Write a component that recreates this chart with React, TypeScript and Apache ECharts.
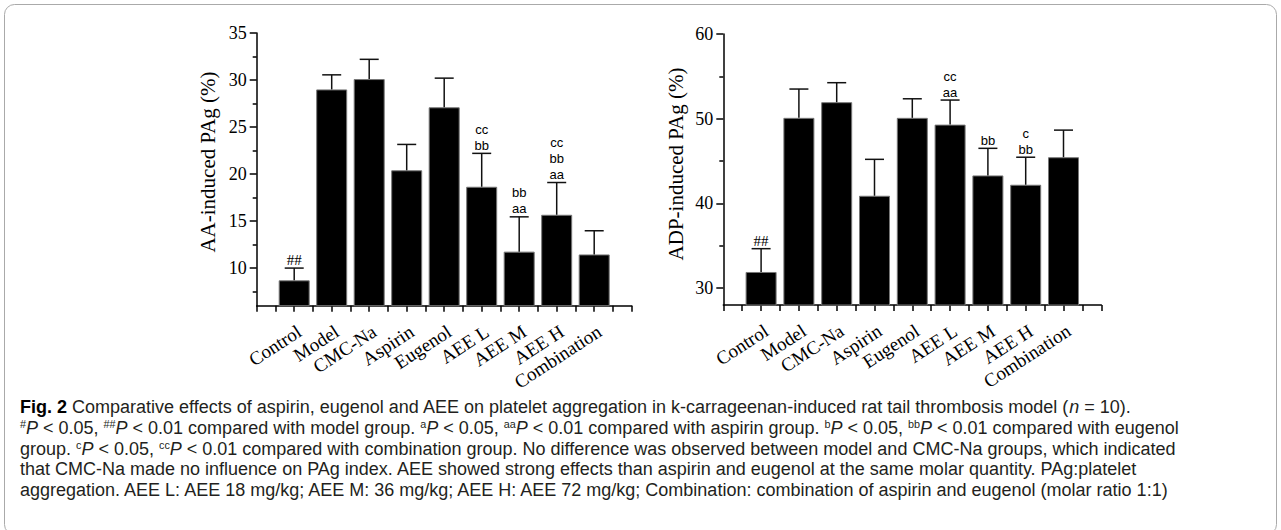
import React, { useEffect, useRef } from "react";
import * as echarts from "echarts";

const categories = ["Control", "Model", "CMC-Na", "Aspirin", "Eugenol", "AEE L", "AEE M", "AEE H", "Combination"];
const aaMean = [8.7, 29.0, 30.1, 20.4, 27.1, 18.65, 11.75, 15.67, 11.45];
const aaUpper = [10.0, 30.55, 32.2, 23.15, 30.2, 22.2, 15.45, 19.1, 13.97];
const aaMarks = ["##", "", "", "", "", "cc\nbb", "bb\naa", "cc\nbb\naa", ""];
const adpMean = [31.9, 50.1, 51.95, 40.9, 50.1, 49.3, 43.3, 42.2, 45.45];
const adpUpper = [34.65, 53.5, 54.25, 45.2, 52.35, 52.2, 46.5, 45.45, 48.65];
const adpMarks = ["##", "", "", "", "", "cc\naa", "bb", "c\nbb", ""];
const aaMajorTicks = [10, 15, 20, 25, 30, 35];
const aaMinorTicks = [7.5, 12.5, 17.5, 22.5, 27.5, 32.5];
const adpMajorTicks = [30, 40, 50, 60];
const adpMinorTicks = [35, 45, 55];
const categoryPositions = [1, 2, 3, 4, 5, 6, 7, 8, 9];
const captionLines = [
  "{b|Fig. 2} Comparative effects of aspirin, eugenol and AEE on platelet aggregation in k-carrageenan-induced rat tail thrombosis model ({i|n} = 10).",
  "{s|#}{i|P} < 0.05, {s|##}{i|P} < 0.01 compared with model group. {s|a}{i|P} < 0.05, {s|aa}{i|P} < 0.01 compared with aspirin group. {s|b}{i|P} < 0.05, {s|bb}{i|P} < 0.01 compared with eugenol",
  "group. {s|c}{i|P} < 0.05, {s|cc}{i|P} < 0.01 compared with combination group. No difference was observed between model and CMC-Na groups, which indicated",
  "that CMC-Na made no influence on PAg index. AEE showed strong effects than aspirin and eugenol at the same molar quantity. PAg:platelet",
  "aggregation. AEE L: AEE 18 mg/kg; AEE M: 36 mg/kg; AEE H: AEE 72 mg/kg; Combination: combination of aspirin and eugenol (molar ratio 1:1)",
];

const SERIF = "Liberation Serif";
const SANS = "Liberation Sans";
const CAP_FONT = "Liberation Sans";
const SUP_RATIO = 0.6;
const CAP_TARGET_WIDTH = 1226; // width of the second caption line

function richWidth(ctx: CanvasRenderingContext2D, line: string, size: number) {
  const re = /\{(\w)\|([^}]*)\}|([^{]+)/g;
  let m: RegExpExecArray | null;
  let w = 0;
  while ((m = re.exec(line))) {
    const tag = m[1];
    const txt = m[1] ? m[2] : m[3];
    const sz = tag === "s" ? size * SUP_RATIO : size;
    const weight = tag === "b" ? "bold" : "normal";
    const style = tag === "i" ? "italic" : "normal";
    ctx.font = `${style} ${weight} ${sz}px "${CAP_FONT}"`;
    w += ctx.measureText(txt).width;
  }
  return w;
}

function fitCaptionSize() {
  try {
    const c = document.createElement("canvas");
    const ctx = c.getContext("2d");
    if (!ctx) return 16.5;
    const s = (10 * CAP_TARGET_WIDTH) / richWidth(ctx, captionLines[1], 10);
    return Math.max(13, Math.min(18, s));
  } catch (e) {
    return 16.5;
  }
}

const axisLineStyle = { color: "#000", width: 1.5 };

function makeX(gi: number) {
  return {
    type: "value",
    gridIndex: gi,
    min: 0,
    max: 10,
    interval: 0.5,
    axisLine: { show: true, onZero: false, lineStyle: axisLineStyle },
    axisTick: { show: true, inside: false, length: 6, lineStyle: axisLineStyle },
    axisLabel: {
      customValues: categoryPositions,
      formatter: (v: number) => categories[Math.round(v) - 1] || "",
      rotate: 33,
      margin: 16,
      align: "right",
      verticalAlign: "top",
      fontFamily: SERIF,
      fontSize: 19,
      color: "#000",
    },
    splitLine: { show: false },
  };
}

function makeY(gi: number, min: number, max: number, major: number[]) {
  return {
    type: "value",
    gridIndex: gi,
    min,
    max,
    position: "left",
    axisLine: { show: true, onZero: false, lineStyle: axisLineStyle },
    axisTick: { show: true, customValues: major, length: 7, lineStyle: axisLineStyle },
    axisLabel: { customValues: major, margin: 10, fontFamily: SERIF, fontSize: 18, color: "#000" },
    splitLine: { show: false },
  };
}

function makeYMinor(gi: number, min: number, max: number, minor: number[]) {
  return {
    type: "value",
    gridIndex: gi,
    min,
    max,
    position: "left",
    axisLine: { show: false },
    axisTick: { show: true, customValues: minor, length: 4, lineStyle: axisLineStyle },
    axisLabel: { show: false },
    splitLine: { show: false },
  };
}

function makeErrRender(marks: string[]) {
  return (params: any, api: any) => {
    const x = api.value(0);
    const m = api.value(1);
    const u = api.value(2);
    const p0 = api.coord([x, m]);
    const p1 = api.coord([x, u]);
    const ls = { stroke: "#111", lineWidth: 1.5 };
    const children: any[] = [
      { type: "line", shape: { x1: p0[0], y1: p0[1], x2: p1[0], y2: p1[1] }, style: ls },
      { type: "line", shape: { x1: p1[0] - 9.5, y1: p1[1], x2: p1[0] + 9.5, y2: p1[1] }, style: ls },
    ];
    const txt = marks[params.dataIndex];
    if (txt) {
      const lines = txt.split("\n").reverse();
      lines.forEach((t, i) => {
        const serif = t.indexOf("#") >= 0;
        children.push({
          type: "text",
          x: p1[0],
          y: p1[1] - 8 - 16 * i,
          style: {
            text: t,
            fontFamily: serif ? SERIF : SANS,
            fontSize: serif ? 15 : 13,
            fill: "#000",
            align: "center",
            verticalAlign: "middle",
          },
        });
      });
    }
    return { type: "group", children };
  };
}

function barSeries(gi: number, yi: number, mean: number[]) {
  return {
    type: "bar",
    xAxisIndex: gi,
    yAxisIndex: yi,
    data: mean.map((v, i) => [categoryPositions[i], v]),
    barWidth: 31,
    itemStyle: { color: "#000", borderColor: "#777", borderWidth: 1 },
    silent: true,
  };
}

function errSeries(gi: number, yi: number, mean: number[], upper: number[], marks: string[]) {
  return {
    type: "custom",
    xAxisIndex: gi,
    yAxisIndex: yi,
    data: mean.map((v, i) => [categoryPositions[i], v, upper[i]]),
    renderItem: makeErrRender(marks),
    clip: false,
    z: 5,
    silent: true,
  };
}

export default function App() {
  const ref = useRef<HTMLDivElement>(null);
  useEffect(() => {
    if (!ref.current) return;
    const chart = echarts.init(ref.current, null, { renderer: "svg" });
    const size = Math.round(fitCaptionSize() * 10) / 10;
    const lh = 19;
    const supSize = Math.round(size * SUP_RATIO * 10) / 10;
    const rich = {
      b: { fontFamily: CAP_FONT, fontSize: size, fontWeight: "bold", lineHeight: lh, fill: "#000" },
      i: { fontFamily: CAP_FONT, fontSize: size, fontStyle: "italic", lineHeight: lh, fill: "#231f20" },
      s: { fontFamily: CAP_FONT, fontSize: supSize, lineHeight: supSize, verticalAlign: "top", fill: "#231f20" },
    };
    const captionGraphics = captionLines.map((t, i) => ({
      type: "text",
      x: 20,
      y: 407 + i * 20.8,
      silent: true,
      style: {
        text: t,
        rich,
        fontFamily: CAP_FONT,
        fontSize: size,
        lineHeight: lh,
        fill: "#231f20",
        align: "left",
        verticalAlign: "middle",
      },
    }));
    chart.setOption({
      animation: false,
      backgroundColor: "#fff",
      grid: [
        { left: 256.7, top: 33, width: 375, height: 272.7 },
        { left: 723.3, top: 34, width: 378, height: 271 },
      ],
      xAxis: [makeX(0), makeX(1)],
      yAxis: [
        makeY(0, 6, 35, aaMajorTicks),
        makeYMinor(0, 6, 35, aaMinorTicks),
        makeY(1, 28, 60, adpMajorTicks),
        makeYMinor(1, 28, 60, adpMinorTicks),
      ],
      series: [
        barSeries(0, 0, aaMean),
        errSeries(0, 0, aaMean, aaUpper, aaMarks),
        barSeries(1, 2, adpMean),
        errSeries(1, 2, adpMean, adpUpper, adpMarks),
      ],
      graphic: [
        {
          type: "rect",
          silent: true,
          shape: { x: 4.5, y: 4.5, width: 1272, height: 530, r: 10 },
          style: { fill: "none", stroke: "#aaa", lineWidth: 1 },
        },
        {
          type: "text",
          x: 208,
          y: 162,
          rotation: Math.PI / 2,
          silent: true,
          style: { text: "AA-induced PAg (%)", fontFamily: SERIF, fontSize: 21, fill: "#000", align: "center", verticalAlign: "middle" },
        },
        {
          type: "text",
          x: 676,
          y: 164,
          rotation: Math.PI / 2,
          silent: true,
          style: { text: "ADP-induced PAg (%)", fontFamily: SERIF, fontSize: 21, fill: "#000", align: "center", verticalAlign: "middle" },
        },
        ...captionGraphics,
      ],
    });
    return () => chart.dispose();
  }, []);
  return <div ref={ref} style={{ position: "absolute", left: 0, top: 0, width: 1281, height: 530 }} />;
}
